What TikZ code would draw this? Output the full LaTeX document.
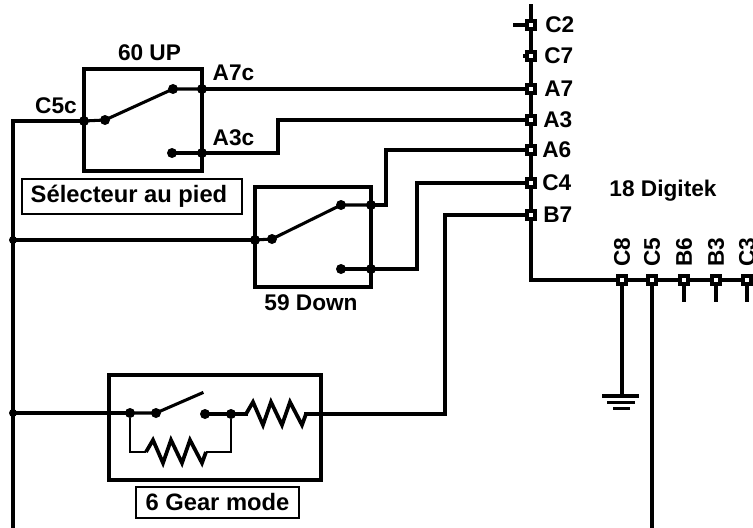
\documentclass[tikz,border=0pt]{standalone}
\usepackage{fontspec}
\setmainfont{Liberation Sans}
\usetikzlibrary{positioning}

\begin{document}
\begin{tikzpicture}[
    x=0.75pt, y=-0.75pt,
    font=\fontsize{17}{19}\selectfont\bfseries,
    % styles
    wire/.style={draw, line width=2.3pt, line cap=rect},
    frame/.style={draw, line width=2.3pt},
    dot/.style={circle, fill=black, inner sep=0pt, minimum size=7.5pt},
    pin/.style={draw, fill=white, line width=2.3pt, inner sep=0pt, minimum size=6pt},
    tag/.style={draw, line width=1.6pt, inner sep=0pt, font=\fontsize{17.8}{19}\selectfont\bfseries},
    resistor/.pic={
        \coordinate (-in) at (0,0);
        \coordinate (-out) at (60,0);
        \draw[line width=2.8pt, line join=miter] (0,0) -- (7,-12) -- (17,11) -- (25,-12) -- (36,11) -- (44,-12) -- (56,11) -- (60,0);
    }
]
    \useasboundingbox (0,0) rectangle (753,528);

    % --- 1. 60 UP ---
    \node[frame, minimum width=88.5pt, minimum height=76.5pt] (upbox) at (143,120) {};
    \node[dot] (upc) at (84,121) {};
    \node[dot] (upcom) at (105,120) {};
    \node[dot] (upno) at (173,89) {};
    \node[dot] (upnc) at (172,153) {};
    \node[dot] (upa7) at (202,89) {};
    \node[dot] (upa3) at (202,153) {};
    \node (uplabel) at (149.5,53) {60 UP};
    \node (lc5c) at (56,106) {C5c};
    \node (la7c) at (233.5,73) {A7c};
    \node (la3c) at (233.5,138) {A3c};
    \node[tag, minimum width=165pt, minimum height=26pt] (seltag) at (132,196.5) {Sélecteur au pied\hspace*{4.5pt}};
    \draw[wire] (upc) -- (upcom) -- (upno) -- (upa7);
    \draw[wire] (upnc) -- (upa3);

    % --- 2. 59 Down ---
    \node[frame, minimum width=87pt, minimum height=75pt] (downbox) at (313,237) {};
    \node[dot] (downc) at (255,240) {};
    \node[dot] (downcom) at (272,239) {};
    \node[dot] (downno) at (341,205) {};
    \node[dot] (downnc) at (341,269) {};
    \node[dot] (downa6) at (371,205) {};
    \node[dot] (downc4) at (371,269) {};
    \node (downlabel) at (311,303) {59 Down};
    \draw[wire] (downc) -- (downcom) -- (downno) -- (downa6);
    \draw[wire] (downnc) -- (downc4);

    % --- 3. 6 Gear mode ---
    \node[frame, minimum width=159pt, minimum height=78.75pt] (gearbox) at (215,427.5) {};
    \node[dot] (gearin) at (130,413) {};
    \node[dot] (gearcom) at (156,413) {};
    \coordinate (gearblade) at (202,393);
    \node[dot] (gearno) at (205,414) {};
    \node[dot] (gearout) at (231,414) {};
    \coordinate (gearlow) at (130,452);
    \coordinate (gearhigh) at (231,452);
    \pic (rtop) at (246,414) {resistor};
    \pic (rlow) at (146,452) {resistor};
    \node[tag, minimum width=122pt, minimum height=23pt] (geartag) at (217.5,502.5) {6 Gear mode};
    \draw[wire] (gearin) -- (gearcom) -- (gearblade);
    \draw[wire] (gearno) -- (gearout) -- (rtop-in);
    \draw[line width=1.6pt] (gearin) -- (gearlow) -- (rlow-in);
    \draw[line width=1.6pt] (rlow-out) -- (gearhigh) -- (gearout);

    % --- 4. 18 Digitek ---
    \coordinate (bustop) at (531,6);
    \coordinate (buscorner) at (531,280);
    \coordinate (busend) at (747,280);
    \draw[wire] (bustop) -- (buscorner) -- (busend);
    \node (digitek) at (663,191) {18 Digitek};

    \coordinate (feedleft) at (13,121);
    \coordinate (feedbottom) at (13,528);
    \node[dot, minimum size=6pt] (feedb) at (13,240) {};
    \node[dot, minimum size=6pt] (feedc) at (13,413) {};

    % pins along the vertical bus
    \foreach \name/\ypos/\xtext in {C2/25/545, C7/56/544, A7/89/544, A3/120/543, A6/150/542, C4/183/542, B7/215/543} {
        \node[pin] (p\name) at (531,\ypos) {};
        \node[anchor=west, inner sep=0pt] (l\name) at (\xtext,\ypos) {\name};
    }
    % pins along the horizontal bus
    \foreach \name/\xpos in {C8/622, C5/652, B6/684, B3/716, C3/747} {
        \coordinate (s\name) at (\xpos,300);
        \draw[wire] (\xpos,280) -- (s\name);
        \node[pin] (p\name) at (\xpos,280) {};
        \node[rotate=90, anchor=west, inner sep=0pt] (l\name) at (\xpos,267) {\name};
    }

    % --- 5. Wires ---
    \coordinate (stubC2) at (515,25);
    \coordinate (stubC7) at (525,56);
    \draw[wire] (stubC2) -- (pC2);
    \draw[wire] (stubC7) -- (pC7);
    \draw[wire] (upa7) -- (pA7);
    \draw[wire] (upa3) -- (278,153) -- (278,120) -- (pA3);
    \draw[wire] (downa6) -- (386,205) -- (386,150) -- (pA6);
    \draw[wire] (downc4) -- (417,269) -- (417,183) -- (pC4);
    \draw[wire] (rtop-out) -- (445,414) -- (445,215) -- (pB7);
    \draw[wire] (upc) -- (feedleft) -- (feedbottom);
    \draw[wire] (feedb) -- (downc);
    \draw[wire] (feedc) -- (gearin);

    % C5 and C8 leads
    \coordinate (c5end) at (652,528);
    \coordinate (gnd) at (622,396);
    \draw[wire] (pC5) -- (c5end);
    \draw[wire] (pC8) -- (gnd);
    \draw[line width=2.6pt] (602,396) -- (639,396);
    \draw[line width=2.6pt] (607,402.5) -- (635,402.5);
    \draw[line width=2.6pt] (613,408.5) -- (630,408.5);
\end{tikzpicture}
\end{document}
